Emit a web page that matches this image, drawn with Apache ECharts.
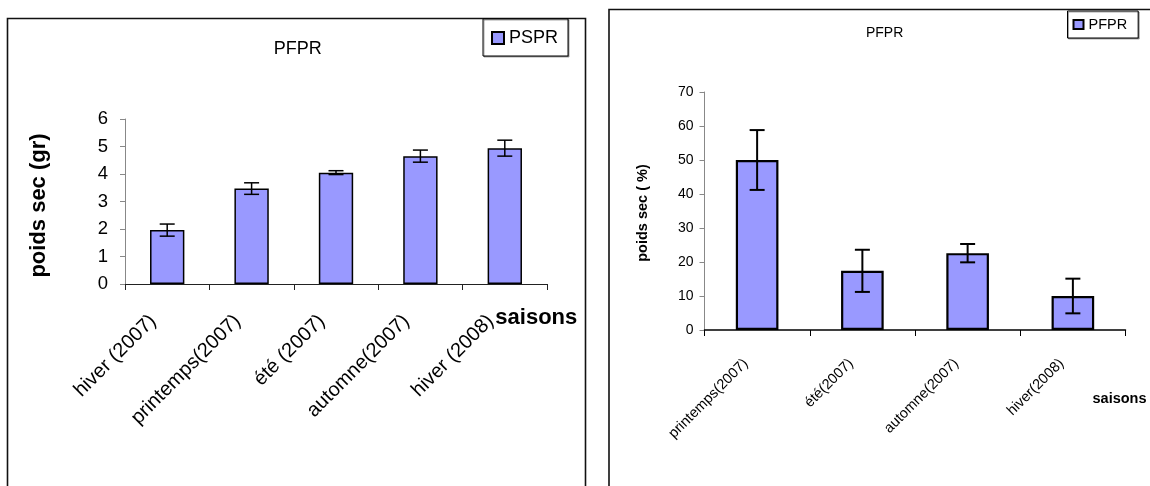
<!DOCTYPE html>
<html><head><meta charset="utf-8">
<script src="https://cdn.jsdelivr.net/npm/echarts@6/dist/echarts.min.js"></script>
<style>html,body{margin:0;padding:0;background:#fff}#c{width:1150px;height:486px}</style>
</head><body><div id="c"></div>
<script>
// ---- data ----
const leftCategories = ['hiver (2007)', 'printemps(2007)', 'été (2007)', 'automne(2007)', 'hiver (2008)'];
const leftValues = [1.96, 3.47, 4.05, 4.65, 4.94];
const leftErrors = [0.22, 0.21, 0.07, 0.22, 0.29];
const leftYTicks = [0, 1, 2, 3, 4, 5, 6];

const rightCategories = ['printemps(2007)', 'été(2007)', 'automne(2007)', 'hiver(2008)'];
const rightValues = [50.0, 17.4, 22.6, 10.0];
const rightErrors = [8.8, 6.2, 2.7, 5.1];
const rightYTicks = [0, 10, 20, 30, 40, 50, 60, 70];

const FONT = '"Liberation Sans", Arial, sans-serif';
const BAR = '#9999FF';

function errRender(half, lw) {
  return function (params, api) {
    const x = api.value(0), v = api.value(1), e = api.value(2);
    const t = api.coord([x, v + e]);
    const b = api.coord([x, v - e]);
    const st = { stroke: '#000', lineWidth: lw };
    return {
      type: 'group',
      children: [
        { type: 'line', shape: { x1: t[0], y1: t[1], x2: b[0], y2: b[1] }, style: st },
        { type: 'line', shape: { x1: t[0] - half, y1: t[1], x2: t[0] + half, y2: t[1] }, style: st },
        { type: 'line', shape: { x1: b[0] - half, y1: b[1], x2: b[0] + half, y2: b[1] }, style: st }
      ]
    };
  };
}

function txt(text, x, y, size, bold, rot) {
  return {
    type: 'text', x: x, y: y, rotation: rot || 0, z: 10,
    style: {
      text: text, fill: '#000', font: (bold ? 'bold ' : '') + size + 'px ' + FONT,
      fontSize: size, fontWeight: bold ? 'bold' : 'normal', fontFamily: FONT,
      textAlign: 'center', textVerticalAlign: 'middle', align: 'center', verticalAlign: 'middle'
    }
  };
}

const chart = echarts.init(document.getElementById('c'), null, { renderer: 'canvas' });
const option = {
  animation: false,
  backgroundColor: '#fff',
  textStyle: { fontFamily: FONT },
  graphic: [
    { type: 'rect', shape: { x: 7.5, y: 18.5, width: 578, height: 520 }, style: { fill: 'none', stroke: '#111', lineWidth: 1.6 }, z: 0 },
    { type: 'rect', shape: { x: 609, y: 9.5, width: 620, height: 520 }, style: { fill: 'none', stroke: '#111', lineWidth: 1.6 }, z: 0 },
    txt('PFPR', 297.7, 48.7, 18, false),
    txt('poids sec (gr)', 39, 205.5, 22, true, Math.PI / 2),
    txt('saisons', 536.3, 318, 22, true),
    txt('PFPR', 884.6, 33, 14, false),
    txt('poids sec ( %)', 642.7, 213, 14.5, true, Math.PI / 2),
    txt('saisons', 1119.5, 399, 14.5, true)
  ],
  legend: [
    {
      data: ['PSPR'], left: 483, top: 19, orient: 'horizontal',
      padding: [10, 10, 9, 8], itemWidth: 12, itemHeight: 12,
      borderColor: '#000', borderWidth: 1, backgroundColor: '#fff',
      shadowColor: 'rgba(0,0,0,0.35)', shadowOffsetX: 1, shadowOffsetY: 1, shadowBlur: 0,
      textStyle: { fontSize: 18, color: '#000', fontFamily: FONT },
      icon: 'rect'
    },
    {
      data: ['PFPR'], left: 1067.5, top: 11, orient: 'horizontal',
      padding: [6, 11, 6, 5], itemWidth: 10, itemHeight: 9,
      borderColor: '#000', borderWidth: 1, backgroundColor: '#fff',
      shadowColor: 'rgba(0,0,0,0.35)', shadowOffsetX: 1, shadowOffsetY: 1, shadowBlur: 0,
      textStyle: { fontSize: 14.5, color: '#000', fontFamily: FONT },
      icon: 'rect'
    }
  ],
  grid: [
    { left: 125, top: 119, width: 422, height: 165, containLabel: false },
    { left: 704.5, top: 92, width: 421, height: 238, containLabel: false }
  ],
  xAxis: [
    {
      type: 'category', gridIndex: 0, data: leftCategories,
      axisLine: { show: true, lineStyle: { color: '#222', width: 1 } },
      axisTick: { show: true, length: 6, lineStyle: { color: '#222' } },
      axisLabel: { rotate: 45, margin: 20, fontSize: 20, color: '#000', fontFamily: FONT, interval: 0, padding: [0, 20, 0, 0] },
      splitLine: { show: false }
    },
    {
      type: 'category', gridIndex: 1, data: rightCategories,
      axisLine: { show: true, lineStyle: { color: '#000', width: 1.5 } },
      axisTick: { show: true, length: 6, lineStyle: { color: '#000' } },
      axisLabel: { rotate: 45, margin: 20, fontSize: 14.5, color: '#000', fontFamily: FONT, interval: 0, padding: [0, 16, 0, 0] },
      splitLine: { show: false }
    }
  ],
  yAxis: [
    {
      type: 'value', gridIndex: 0, min: leftYTicks[0], max: leftYTicks[leftYTicks.length - 1], interval: 1,
      axisLine: { show: true, lineStyle: { color: '#888', width: 1 } },
      axisTick: { show: true, length: 5, lineStyle: { color: '#888' } },
      axisLabel: { fontSize: 18.5, color: '#000', margin: 17, fontFamily: FONT },
      splitLine: { show: false }
    },
    {
      type: 'value', gridIndex: 1, min: rightYTicks[0], max: rightYTicks[rightYTicks.length - 1], interval: 10,
      axisLine: { show: true, lineStyle: { color: '#888', width: 1 } },
      axisTick: { show: true, length: 5, lineStyle: { color: '#888' } },
      axisLabel: { fontSize: 14, color: '#000', margin: 11, fontFamily: FONT },
      splitLine: { show: false }
    }
  ],
  series: [
    {
      name: 'PSPR', type: 'bar', xAxisIndex: 0, yAxisIndex: 0, data: leftValues,
      barWidth: '40.7%',
      itemStyle: { color: BAR, borderColor: '#000', borderWidth: 1.5 }
    },
    {
      name: 'errL', type: 'custom', xAxisIndex: 0, yAxisIndex: 0, z: 5,
      renderItem: errRender(7.5, 1.5),
      encode: { x: 0, y: 1 },
      data: leftCategories.map((c, i) => [i, leftValues[i], leftErrors[i]])
    },
    {
      name: 'PFPR', type: 'bar', xAxisIndex: 1, yAxisIndex: 1, data: rightValues,
      barWidth: '40.5%',
      itemStyle: { color: BAR, borderColor: '#000', borderWidth: 2.2 }
    },
    {
      name: 'errR', type: 'custom', xAxisIndex: 1, yAxisIndex: 1, z: 5,
      renderItem: errRender(7.5, 2),
      encode: { x: 0, y: 1 },
      data: rightCategories.map((c, i) => [i, rightValues[i], rightErrors[i]])
    }
  ]
};
chart.setOption(option);
</script>
</body></html>
